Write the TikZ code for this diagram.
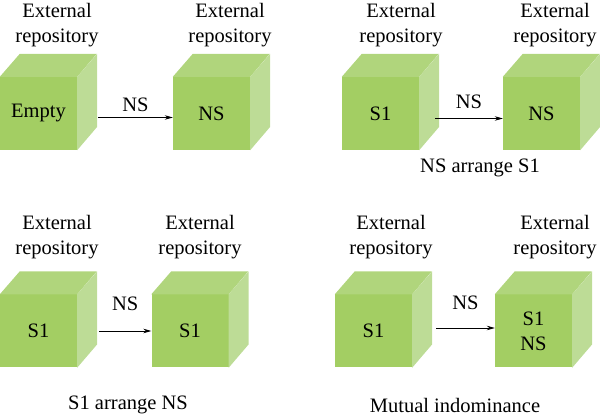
\documentclass[tikz,border=0pt]{standalone}
\usepackage{fontspec}
\setmainfont{Liberation Serif}
\usetikzlibrary{arrows.meta}
\definecolor{cfront}{HTML}{A3CE63}
\definecolor{ctop}{HTML}{B0D57C}
\definecolor{cside}{HTML}{BDDC96}
\tikzset{
  front/.style={rectangle, fill=cfront, minimum width=77pt, minimum height=73pt, inner sep=0pt, align=center, font=\fontsize{20.5}{25}\selectfont},
  lbl/.style={align=center, inner sep=0pt, font=\fontsize{20.5}{25}\selectfont},
  arr/.style={-{Stealth[length=8pt,width=4.5pt]}, line width=0.8pt},
}
\newcommand{\cubefaces}[1]{%
  \fill[ctop] (#1.north west) -- ++(20,-23) -- ++(77,0) -- (#1.north east) -- cycle;
  \fill[cside] (#1.north east) -- ++(20,-23) -- ++(0,73) -- (#1.south east) -- cycle;
}
\begin{document}
\begin{tikzpicture}[x=1pt,y=-1pt]
\useasboundingbox (0,0) rectangle (600,419);
% panel 1
\node[front] (A) at (38.5,113.5) {Empty};
\node[front] (B) at (211.5,113.5) {NS};
\cubefaces{A}\cubefaces{B}
\node[lbl] (la) at (57,25) {External\\repository};
\node[lbl] (lb) at (230,25) {External\\repository};
\draw[arr] ([xshift=21pt,yshift=-4pt]A.east) -- node[lbl,above=5pt] (na) {NS} ([yshift=-4pt]B.west);
% panel 2
\node[front] (C) at (380.5,113.5) {S1};
\node[front] (D) at (541.5,113.5) {NS};
\cubefaces{C}\cubefaces{D}
\node[lbl] (lc) at (401,25) {External\\repository};
\node[lbl] (ld) at (555,25) {External\\repository};
\draw[arr] ([xshift=16pt,yshift=-5pt]C.east) -- node[lbl,above=9pt] (nc) {NS} ([yshift=-5pt]D.west);
\node[lbl] (cap2) at (480,168) {NS arrange S1};
% panel 3
\node[front] (E) at (38.5,331) {S1};
\node[front] (F) at (190,331) {S1};
\cubefaces{E}\cubefaces{F}
\node[lbl] (le) at (57,237) {External\\repository};
\node[lbl] (lf) at (200,237) {External\\repository};
\draw[arr] ([xshift=22pt]E.east) -- node[lbl,above=20pt] (ne) {NS} (F.west);
\node[lbl] (cap3) at (128,405) {S1 arrange NS};
% panel 4
\node[front] (G) at (373.5,331) {S1};
\node[front] (H) at (533.5,331) {S1\\NS};
\cubefaces{G}\cubefaces{H}
\node[lbl] (lg) at (391,237) {External\\repository};
\node[lbl] (lh) at (555,237) {External\\repository};
\draw[arr] ([xshift=24pt,yshift=3pt]G.east) -- node[lbl,above=18pt] (ng) {NS} ([yshift=3pt]H.west);
\node[lbl] (cap4) at (455,405) {Mutual indominance};
\end{tikzpicture}
\end{document}
